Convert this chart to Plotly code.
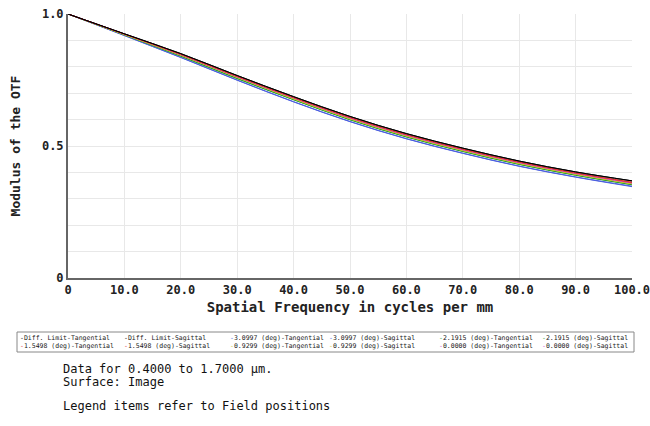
import plotly.graph_objects as go

freq = [0, 10, 20, 30, 40, 50, 60, 70, 80, 90, 100]

diff_t = [1.0, 0.925, 0.850, 0.767, 0.687, 0.612, 0.547, 0.492, 0.443, 0.402, 0.368]
diff_s = [1.0, 0.925, 0.850, 0.767, 0.687, 0.612, 0.547, 0.492, 0.443, 0.402, 0.368]
f3_t = [1.0, 0.919, 0.836, 0.750, 0.668, 0.593, 0.528, 0.473, 0.424, 0.383, 0.348]
f3_s = [1.0, 0.918, 0.835, 0.749, 0.667, 0.592, 0.527, 0.472, 0.423, 0.382, 0.346]
f2_t = [1.0, 0.921, 0.841, 0.756, 0.676, 0.600, 0.535, 0.480, 0.431, 0.390, 0.354]
f2_s = [1.0, 0.921, 0.840, 0.755, 0.675, 0.599, 0.534, 0.479, 0.430, 0.389, 0.353]
f15_t = [1.0, 0.924, 0.847, 0.764, 0.684, 0.608, 0.543, 0.488, 0.439, 0.398, 0.363]
f15_s = [1.0, 0.924, 0.847, 0.763, 0.683, 0.608, 0.543, 0.488, 0.439, 0.398, 0.362]
f09_t = [1.0, 0.922, 0.844, 0.760, 0.679, 0.603, 0.538, 0.483, 0.434, 0.393, 0.357]
f09_s = [1.0, 0.922, 0.844, 0.760, 0.679, 0.603, 0.538, 0.483, 0.434, 0.393, 0.357]
f0_t = [1.0, 0.924, 0.846, 0.762, 0.682, 0.606, 0.541, 0.486, 0.437, 0.396, 0.360]
f0_s = [1.0, 0.924, 0.846, 0.762, 0.682, 0.606, 0.541, 0.486, 0.437, 0.396, 0.360]

names = ["Diff. Limit-Tangential", "Diff. Limit-Sagittal",
         "3.0997 (deg)-Tangential", "3.0997 (deg)-Sagittal",
         "2.1915 (deg)-Tangential", "2.1915 (deg)-Sagittal",
         "1.5498 (deg)-Tangential", "1.5498 (deg)-Sagittal",
         "0.9299 (deg)-Tangential", "0.9299 (deg)-Sagittal",
         "0.0000 (deg)-Tangential", "0.0000 (deg)-Sagittal"]
series = [diff_t, diff_s, f3_t, f3_s, f2_t, f2_s, f15_t, f15_s, f09_t, f09_s, f0_t, f0_s]
colors = ["#000000", "#000000", "#4a5ee0", "#4a5ee0", "#2ea02e", "#2ea02e",
          "#e03434", "#e03434", "#c8c81e", "#c8c81e", "#d048d0", "#d048d0"]

x_ticks = [0, 10, 20, 30, 40, 50, 60, 70, 80, 90, 100]
x_ticktext = ["0", "10.0", "20.0", "30.0", "40.0", "50.0", "60.0", "70.0", "80.0", "90.0", "100.0"]
y_ticks = [0, 0.1, 0.2, 0.3, 0.4, 0.5, 0.6, 0.7, 0.8, 0.9, 1.0]
y_ticktext = ["0", "", "", "", "", "0.5", "", "", "", "", "1.0"]

FONT = "DejaVu Sans Mono"

fig = go.Figure()
draw_order = [2, 3, 4, 5, 8, 9, 10, 11, 6, 7, 0, 1]
for i in draw_order:
    fig.add_trace(go.Scatter(x=freq, y=series[i], mode="lines", name=names[i],
                             line=dict(color=colors[i], width=1, shape="spline"),
                             showlegend=False, hoverinfo="skip"))

fig.update_layout(
    width=650, height=426,
    margin=dict(l=68, r=18, t=14, b=148),
    paper_bgcolor="white", plot_bgcolor="white",
    font=dict(family=FONT, size=12, color="#222"),
    xaxis=dict(range=[0, 100], tickvals=x_ticks, ticktext=x_ticktext,
               showgrid=True, gridcolor="#e8e8e8", gridwidth=1,
               showline=True, linecolor="#666", linewidth=2, zeroline=False,
               ticks="", ticklabeloverflow="allow", automargin=False,
               tickfont=dict(family=FONT, size=12, color="#222", weight="bold"),
               title=dict(text="<b>Spatial Frequency in cycles per mm</b>",
                          font=dict(family=FONT, size=14, color="#222"), standoff=6)),
    yaxis=dict(range=[0, 1.0], tickvals=y_ticks, ticktext=y_ticktext,
               showgrid=True, gridcolor="#e8e8e8", gridwidth=1,
               showline=True, linecolor="#666", linewidth=2, zeroline=False,
               ticks="", ticklabeloverflow="allow", automargin=False,
               tickfont=dict(family=FONT, size=12, color="#222", weight="bold"),
               title=dict(text="<b>Modulus of the OTF</b>",
                          font=dict(family=FONT, size=13, color="#222"), standoff=18)),
)

H = 426.0
def py(p):
    return 1 - (p - 14) / (H - 14 - 148)
def px(p):
    return (p - 68) / (650 - 68 - 18)

fig.add_shape(type="rect", xref="paper", yref="paper",
              x0=px(17), x1=px(634), y0=py(332), y1=py(352),
              line=dict(color="#888", width=1), fillcolor="white")
col_x = [18, 122, 228, 327, 437, 540]
row_y = [337.5, 346]
for k, nm in enumerate(names):
    c = k % 6
    r = k // 6
    fig.add_annotation(xref="paper", yref="paper", x=px(col_x[c]), y=py(row_y[r]),
                       xanchor="left", yanchor="middle", showarrow=False,
                       text=f"<span style='color:{colors[k]}'>-</span>{nm}",
                       font=dict(family=FONT, size=6.5, color="#222"))

notes = ["Data for 0.4000 to 1.7000 µm.", "Surface: Image", "", "Legend items refer to Field positions"]
note_y = [369, 382, 394, 406]
for t, yy in zip(notes, note_y):
    if t:
        fig.add_annotation(xref="paper", yref="paper", x=px(61), y=py(yy),
                           xanchor="left", yanchor="middle", showarrow=False,
                           text=t, font=dict(family=FONT, size=12, color="#111"))

fig.write_html("out.html")
